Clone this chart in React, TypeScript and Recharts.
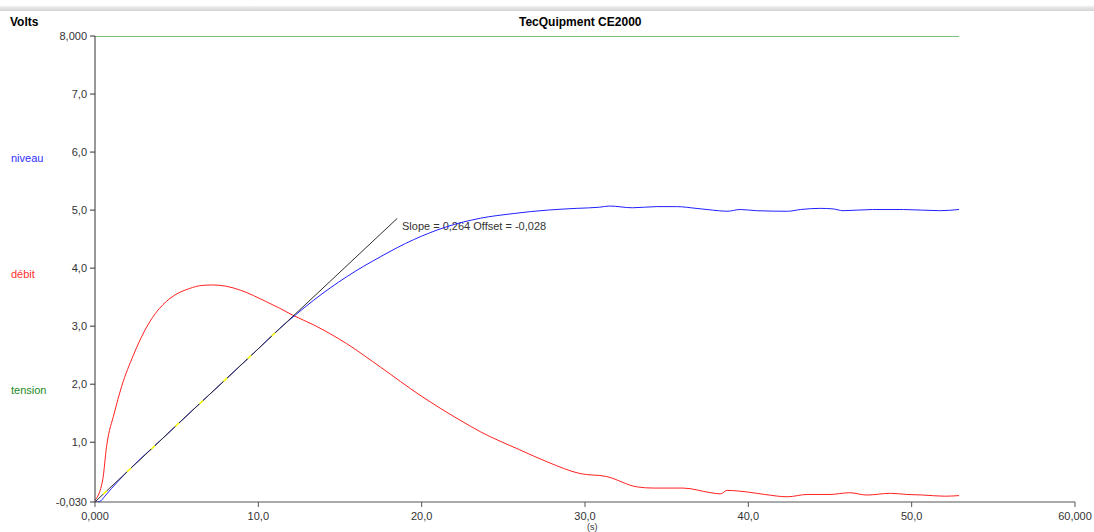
import React from 'react';
import { LineChart, Line, XAxis, YAxis } from 'recharts';

const niveauT = [0, 0.3, 0.6, 1, 2, 4, 6, 8, 10, 11.3, 12.3, 13.4, 15.4, 17.5, 19.5, 21.5, 23.6, 25.6, 27.7, 29.5, 30.9, 31.5, 32.9, 34.4, 35.6, 36.8, 37.8, 38.7, 39.5, 40.5, 42.4, 43.2, 44.4, 45.2, 45.8, 47.6, 49.5, 51.7, 52.9];
const niveauV = [-0.03, -0.02, 0.07, 0.2, 0.5, 1.03, 1.56, 2.08, 2.61, 2.96, 3.2, 3.45, 3.85, 4.2, 4.49, 4.71, 4.86, 4.94, 5.0, 5.03, 5.05, 5.07, 5.04, 5.06, 5.06, 5.03, 5.0, 4.98, 5.01, 4.99, 4.98, 5.01, 5.03, 5.02, 4.99, 5.01, 5.01, 4.99, 5.01];

const debitT = [0, 0.47, 0.71, 1.18, 1.63, 2.35, 3.0, 3.7, 4.6, 5.8, 6.5, 7.2, 8.0, 8.9, 10.5, 11.3, 12.1, 13.4, 15.4, 17.5, 19.9, 22.35, 23.6, 26.0, 27.7, 29.7, 31.3, 33.2, 34.2, 36.0, 37.7, 38.3, 38.7, 40.0, 41.0, 42.4, 43.6, 45.0, 46.2, 47.25, 48.7, 49.7, 50.7, 52.0, 52.9];
const debitV = [0.0, 0.35, 0.93, 1.5, 1.96, 2.5, 2.9, 3.22, 3.48, 3.65, 3.7, 3.71, 3.69, 3.62, 3.42, 3.31, 3.19, 3.02, 2.7, 2.29, 1.81, 1.38, 1.18, 0.87, 0.66, 0.46, 0.41, 0.23, 0.21, 0.21, 0.13, 0.11, 0.17, 0.14, 0.1, 0.06, 0.1, 0.1, 0.13, 0.09, 0.12, 0.1, 0.09, 0.07, 0.08];

const tensionT = [0, 52.9];
const tensionV = [8, 8];

// linear fit shown on screen
const slope = 0.264;
const offset = -0.028;
const fitEnd = 18.5;
const fitRegion = [0.5, 12.3];

const xTicks = [0, 10, 20, 30, 40, 50, 60];
const yTicks = [-0.03, 1, 2, 3, 4, 5, 6, 7, 8];

const zip = (ts: number[], vs: number[]) => ts.map((t, i) => ({ t, v: vs[i] }));

const niveau = zip(niveauT, niveauV);
const debit = zip(debitT, debitV);
const tension = zip(tensionT, tensionV);
const fitLine = [0, fitEnd].map((t) => ({ t, v: offset + slope * t }));
const fitMarks = fitRegion.map((t) => ({ t, v: offset + slope * t }));

const fmtX = (v: number) => (v === 0 || v === 60 ? v.toFixed(3) : v.toFixed(1)).replace('.', ',');
const fmtY = (v: number) => (v === -0.03 || v === 8 ? v.toFixed(3) : v.toFixed(1)).replace('.', ',');

const font = '"Liberation Sans", Arial, sans-serif';

export default function App() {
  return (
    <div style={{ position: 'absolute', left: 0, top: 0, width: 1094, height: 532, background: '#fff', fontFamily: font }}>
      <div style={{ position: 'absolute', left: 0, top: 6, width: 1094, height: 5, background: 'linear-gradient(#f0f0f0, #d4d4d4)' }} />
      <div style={{ position: 'absolute', left: 10, top: 15, fontSize: 12, fontWeight: 'bold' }}>Volts</div>
      <div style={{ position: 'absolute', left: 519, top: 15, fontSize: 12, fontWeight: 'bold' }}>TecQuipment CE2000</div>
      <div style={{ position: 'absolute', left: 11, top: 152, fontSize: 11, color: '#3030ff' }}>niveau</div>
      <div style={{ position: 'absolute', left: 11, top: 268, fontSize: 11, color: '#ff3030' }}>débit</div>
      <div style={{ position: 'absolute', left: 11, top: 384, fontSize: 11, color: '#1a8a1a' }}>tension</div>
      <div style={{ position: 'absolute', left: 402, top: 220, fontSize: 11, color: '#333' }}>Slope = 0,264  Offset = -0,028</div>
      <div style={{ position: 'absolute', left: 587, top: 522, fontSize: 9, lineHeight: '10px', color: '#333' }}>(s)</div>
      <LineChart width={1094} height={532} margin={{ top: 36, right: 19, bottom: 0, left: 0 }}>
        <XAxis
          dataKey="t"
          type="number"
          domain={[0, 60]}
          ticks={xTicks}
          tickFormatter={fmtX}
          allowDataOverflow
          height={30}
          tickSize={5}
          tickMargin={5}
          stroke="#555"
          tick={{ fill: '#333', fontSize: 11, fontFamily: font }}
        />
        <YAxis
          type="number"
          domain={[-0.03, 8]}
          ticks={yTicks}
          tickFormatter={fmtY}
          allowDataOverflow
          width={95}
          tickSize={5}
          tickMargin={3}
          stroke="#333"
          tick={{ fill: '#333', fontSize: 11, fontFamily: font }}
        />
        <Line data={tension} dataKey="v" stroke="#008000" strokeWidth={1} dot={false} activeDot={false} isAnimationActive={false} />
        <Line data={debit} dataKey="v" type="monotone" stroke="#ff2020" strokeWidth={1} dot={false} activeDot={false} isAnimationActive={false} />
        <Line data={niveau} dataKey="v" type="monotone" stroke="#2020ff" strokeWidth={1} dot={false} activeDot={false} isAnimationActive={false} />
        <Line data={fitLine} dataKey="v" stroke="#303030" strokeWidth={1} dot={false} activeDot={false} isAnimationActive={false} />
        <Line data={fitMarks} dataKey="v" stroke="#ffff00" strokeWidth={1.5} strokeDasharray="5 28" dot={false} activeDot={false} isAnimationActive={false} />
      </LineChart>
    </div>
  );
}
